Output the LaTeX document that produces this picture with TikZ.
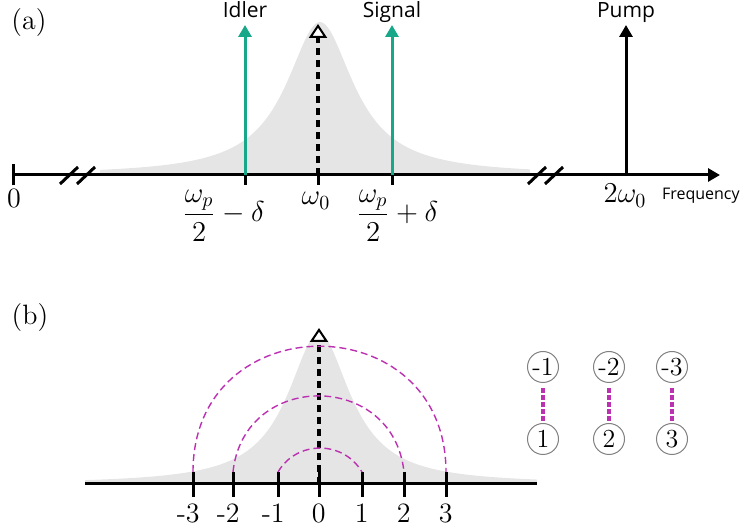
\documentclass[tikz,border=0pt]{standalone}
\usepackage{fontspec}
\newfontfamily\labelfont{Open Sans}
\usepackage{tikz}
\usetikzlibrary{arrows.meta, positioning, calc}
\usepackage{amsmath, amssymb}
\usepackage{xcolor}
\definecolor{BeamTeal}{RGB}{22,168,136}
\definecolor{PairMagenta}{RGB}{188,48,178}
\definecolor{LineGray}{RGB}{229,229,229}

\begin{document}
\begin{tikzpicture}[x=0.5pt, y=0.5pt,
    every node/.style={font=\fontsize{14}{17}\selectfont},
    axisline/.style={line width=1.5pt},
    tickmark/.style={line width=1.5pt},
    beamarrow/.style={line width=1.5pt, -{Triangle[width=6.5pt,length=6pt]}},
    resarrow/.style={line width=2pt, dash pattern=on 3.5pt off 2.5pt,
                     -{Triangle[width=9pt,length=7pt,fill=white,line width=1pt]}},
    beamlabel/.style={font=\labelfont\fontsize{10.5}{12}\selectfont, anchor=base},
    ticklabel/.style={anchor=base east, inner sep=0pt},
    pairarc/.style={PairMagenta, line width=0.7pt, dash pattern=on 3.5pt off 2pt},
    pairlink/.style={PairMagenta, line width=2pt, dash pattern=on 2.5pt off 1pt},
    modecircle/.style={circle, draw=gray, line width=0.5pt, minimum size=15.5pt,
                       inner sep=0pt, font=\fontsize{13}{15}\selectfont}]
  \useasboundingbox (0,0) rectangle (741,531);

  % (a) frequency axis
  \fill[LineGray] (100,356) -- plot[domain=100:530, samples=150]
        (\x, {356+153/(1+((\x-320)/41)^2)}) -- (530,356) -- cycle;
  \coordinate (origin) at (12,356);
  \coordinate (axisend) at (720,356);
  \draw[axisline, {Bar[width=10.5pt]}-{Triangle[width=6.5pt,length=6pt]}] (origin) -- (axisend);
  \foreach \bx in {60,77,528,545}
    \draw[axisline] (\bx,347) -- ++(18,17);
  \foreach \tx/\tn in {245/idler, 318/res, 392/signal} {
    \coordinate (\tn) at (\tx,356);
    \draw[tickmark] (\tn) -- ++(0,-10);
  }
  \coordinate (pump) at (626,356);
  \coordinate (idlertop) at (245,506);
  \coordinate (restop) at (318,507);
  \coordinate (signaltop) at (392,506);
  \coordinate (pumptop) at (626,506);
  \draw[resarrow] (res) -- (restop);
  \draw[beamarrow, BeamTeal] (idler) -- (idlertop);
  \draw[beamarrow, BeamTeal] (signal) -- (signaltop);
  \draw[beamarrow] (pump) -- (pumptop);
  \node[beamlabel] (idlername) at (245,513) {Idler};
  \node[beamlabel] (signalname) at (392,513) {Signal};
  \node[beamlabel] (pumpname) at (626,513) {Pump};

  \node (taga) at (29,508) {(a)};
  \node[anchor=base] (zerofreq) at (14,323) {0};
  \node[anchor=base west, inner sep=0pt] (idlerfreq) at (182,309) {$\dfrac{\omega_p}{2}-\delta$};
  \node[anchor=base] (resfreq) at (316,326) {$\omega_0$};
  \node[anchor=base west, inner sep=0pt] (signalfreq) at (356,309) {$\dfrac{\omega_p}{2}+\delta$};
  \node[anchor=base] (pumpfreq) at (625,328) {$2\omega_0$};
  \node[beamlabel, anchor=base west, font=\labelfont\fontsize{8}{10}\selectfont]
        (freqname) at (655,331) {Frequency};

  % (b) mode pairs
  \node (tagb) at (30,213) {(b)};
  \fill[LineGray] (85,47) -- plot[domain=85:537, samples=150]
        (\x, {47+151/(1+((\x-319)/38)^2)}) -- (537,47) -- cycle;
  \coordinate (bleft) at (85,47);
  \coordinate (bright) at (537,47);
  \draw[axisline] (bleft) -- (bright);
  \foreach \tx/\tn/\tl in {193/m3/-3, 233/m2/-2, 278/m1/-1, 319/z0/0, 362/p1/1, 404/p2/2, 446/p3/3} {
    \coordinate (t\tn) at (\tx,59);
    \draw[tickmark] (t\tn) -- ++(0,-25);
    \node[ticklabel] (l\tn) at (\tx+7,8) {\tl};
  }
  \coordinate (bres) at (319,47);
  \coordinate (brestop) at (319,203);
  \draw[resarrow] (bres) -- (brestop);
  \draw[pairarc] (tm1) to[out=59.5, in=120.5, looseness=1.13] (tp1);
  \draw[pairarc] (tm2) to[out=84, in=96, looseness=1.53] (tp2);
  \draw[pairarc] (tm3) to[out=90, in=90, looseness=1.70] (tp3);

  \foreach \cx/\k in {543/1, 609/2, 672/3} {
    \node[modecircle] (cm\k) at (\cx,164) {-\k};
    \node[modecircle] (cp\k) at (\cx,92) {\k};
    \draw[pairlink, shorten <=2.5pt] (cm\k) -- (cp\k);
  }
\end{tikzpicture}
\end{document}
